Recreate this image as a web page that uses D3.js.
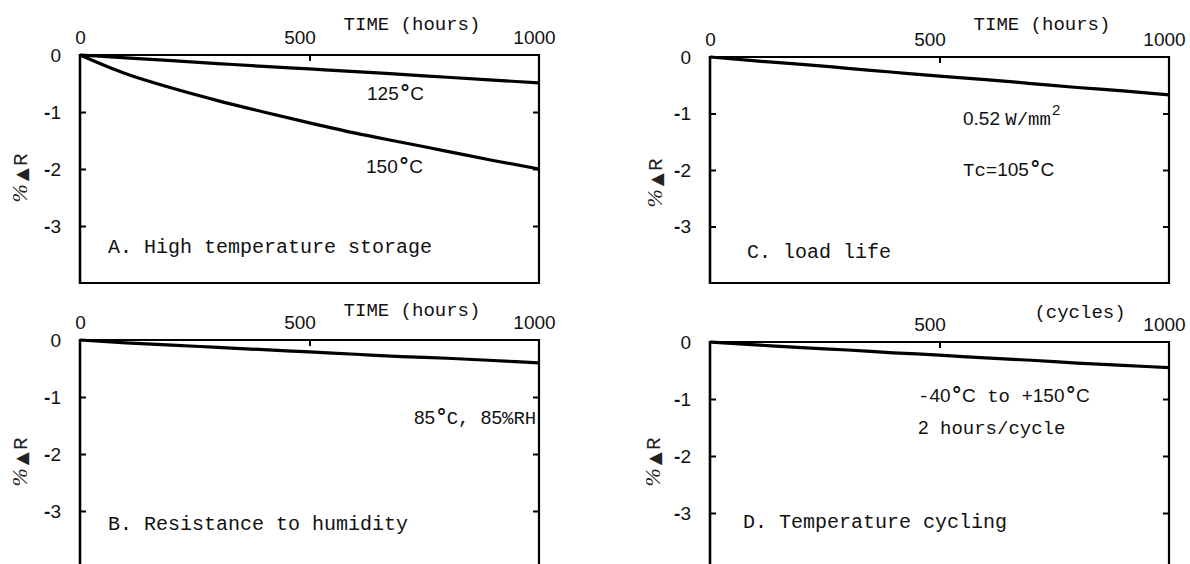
<!DOCTYPE html>
<html>
<head>
<meta charset="utf-8">
<script src="https://cdn.jsdelivr.net/npm/d3@7/dist/d3.min.js"></script>
<style>
  html, body { margin: 0; padding: 0; background: #fff; }
  svg { display: block; }
  .mono { font-family: "Liberation Mono", "DejaVu Sans Mono", monospace; }
</style>
</head>
<body>
<svg id="chart" width="1190" height="564"></svg>
<script>
// Elapsed time (hours or cycles) at which the resistance drift was read
const hours = [0, 100, 200, 300, 400, 500, 600, 700, 800, 900, 1000];

// Percent change in resistance (%ΔR) for each test
const storage125 = [0, -0.05, -0.10, -0.15, -0.20, -0.245, -0.29, -0.34, -0.39, -0.44, -0.49];
const storage150 = [0, -0.33, -0.58, -0.80, -1.00, -1.19, -1.37, -1.53, -1.69, -1.85, -2.00];
const humidity85 = [0, -0.05, -0.09, -0.13, -0.17, -0.21, -0.25, -0.29, -0.32, -0.36, -0.40];
const loadLife   = [0, -0.07, -0.13, -0.20, -0.27, -0.34, -0.40, -0.47, -0.54, -0.60, -0.67];
const cycling    = [0, -0.05, -0.10, -0.14, -0.19, -0.23, -0.28, -0.32, -0.37, -0.41, -0.45];

// Axis ticks
const xTickValues = [0, 500, 1000];
const yTickValues = [0, -1, -2, -3];
const yDomain = [0, -4];

const SANS = "Liberation Sans, Arial, sans-serif";
const MONO = "Liberation Mono, monospace";

const svg = d3.select("#chart");

const panels = [
  {
    box: { x0: 80, x1: 539, y0: 55, y1: 283 },
    axisTitle: "TIME (hours)", titleX: 412, titleY: 30,
    showZero: true,
    series: [storage125, storage150],
    yLabel: { x: 21, y: 178 },
    caption: { text: "A. High temperature storage", x: 108, y: 253 },
    notes: [
      { x: 367, y: 100, parts: [["sans", "125"], ["deg", "°"], ["sans", "C"]] },
      { x: 366, y: 173, parts: [["sans", "150"], ["deg", "°"], ["sans", "C"]] }
    ]
  },
  {
    box: { x0: 80, x1: 539, y0: 340, y1: 568 },
    axisTitle: "TIME (hours)", titleX: 412, titleY: 316,
    showZero: true,
    series: [humidity85],
    yLabel: { x: 21, y: 462 },
    caption: { text: "B. Resistance to humidity", x: 108, y: 530 },
    notes: [
      { x: 414, y: 424, parts: [["sans", "85"], ["deg", "°"], ["mono", "C, "], ["sans", "85"], ["mono", "%RH"]] }
    ]
  },
  {
    box: { x0: 710, x1: 1169, y0: 57, y1: 283 },
    axisTitle: "TIME (hours)", titleX: 1042, titleY: 30,
    showZero: true,
    series: [loadLife],
    yLabel: { x: 656, y: 183 },
    caption: { text: "C. load life", x: 747, y: 258 },
    notes: [
      { x: 963, y: 125, parts: [["sans", "0.52 "], ["mono", "W/mm"], ["sup", "2"]] },
      { x: 963, y: 176, parts: [["mono", "Tc="], ["sans", "105"], ["deg", "°"], ["sans", "C"]] }
    ]
  },
  {
    box: { x0: 710, x1: 1169, y0: 342, y1: 570 },
    axisTitle: "(cycles)", titleX: 1080, titleY: 318,
    showZero: false,
    series: [cycling],
    yLabel: { x: 654, y: 462 },
    caption: { text: "D. Temperature cycling", x: 743, y: 528 },
    notes: [
      { x: 918, y: 402, parts: [["mono", "-"], ["sans", "40"], ["deg", "°"], ["sans", "C"], ["mono", " to +"], ["sans", "150"], ["deg", "°"], ["sans", "C"]] },
      { x: 918, y: 434, parts: [["sans", "2"], ["mono", " hours/cycle"]] }
    ]
  }
];

// Mixed-face label: digits in sans, typed words in mono, bold degree ring, raised exponent
function addParts(textSel, parts) {
  let raised = false;
  parts.forEach(([kind, str]) => {
    const t = textSel.append("tspan").text(str);
    if (kind === "sans") t.attr("font-family", SANS).attr("font-size", 19);
    if (kind === "mono") t.attr("font-family", MONO).attr("font-size", 19);
    if (kind === "deg") t.attr("font-family", "DejaVu Sans, sans-serif").attr("font-size", 21)
                         .attr("font-weight", "bold").attr("dx", 1);
    if (kind === "sup") { t.attr("font-family", SANS).attr("font-size", 15).attr("dy", -10).attr("dx", 1); raised = true; }
    else if (raised) { t.attr("dy", 10); raised = false; }
  });
}

panels.forEach(p => {
  const { x0, x1, y0, y1 } = p.box;
  const x = d3.scaleLinear().domain([0, 1000]).range([x0, x1]);
  const y = d3.scaleLinear().domain(yDomain).range([y0, y1]);
  const g = svg.append("g");

  // Top axis: inward ticks, labels above
  const xOffsets = { 0: 0, 500: -10, 1000: -5 };
  const top = g.append("g")
    .attr("transform", `translate(0,${y0})`)
    .call(d3.axisTop(x).tickValues(xTickValues).tickSize(-6).tickPadding(11)
      .tickFormat(d => (d === 0 && !p.showZero) ? "" : d3.format("d")(d)));
  top.select(".domain").remove();
  top.selectAll(".tick line").attr("stroke", "#000").attr("stroke-width", 2)
    .attr("display", d => d === 500 ? null : "none");
  top.selectAll(".tick text")
    .attr("font-size", 19).attr("fill", "#111")
    .attr("font-family", SANS)
    .attr("dx", d => xOffsets[d]);

  // Left axis: inward ticks, labels to the left
  const left = g.append("g")
    .attr("transform", `translate(${x0},0)`)
    .call(d3.axisLeft(y).tickValues(yTickValues).tickSize(-6).tickPadding(19)
      .tickFormat(d => d === 0 ? "0" : "-" + Math.abs(d)));
  left.select(".domain").remove();
  left.selectAll(".tick line").attr("stroke", "#000").attr("stroke-width", 2)
    .attr("display", d => d === 0 ? "none" : null);
  left.selectAll(".tick text")
    .attr("font-size", 19).attr("fill", "#111")
    .attr("font-family", SANS)
    .each(function(d) {
      const t = d3.select(this);
      if (d !== 0) {
        t.text(null);
        t.append("tspan").attr("font-weight", "bold").text("-");
        t.append("tspan").text(Math.abs(d));
      }
    });

  // Right axis: inward ticks only
  const right = g.append("g")
    .attr("transform", `translate(${x1},0)`)
    .call(d3.axisRight(y).tickValues(yTickValues.filter(v => v !== 0)).tickSize(-6).tickFormat(""));
  right.select(".domain").remove();
  right.selectAll(".tick line").attr("stroke", "#000").attr("stroke-width", 2);

  // Frame
  g.append("line").attr("x1", x0).attr("x2", x1).attr("y1", y0).attr("y2", y0)
    .attr("stroke", "#000").attr("stroke-width", 1.8);
  g.append("line").attr("x1", x0).attr("x2", x1).attr("y1", y1).attr("y2", y1)
    .attr("stroke", "#000").attr("stroke-width", 2);
  g.append("line").attr("x1", x0).attr("x2", x0).attr("y1", y0 - 1).attr("y2", y1 + 1)
    .attr("stroke", "#000").attr("stroke-width", 2.6);
  g.append("line").attr("x1", x1).attr("x2", x1).attr("y1", y0 - 1).attr("y2", y1 + 1)
    .attr("stroke", "#000").attr("stroke-width", 2.2);

  // Drift curves
  const line = d3.line().x((d, i) => x(hours[i])).y(d => y(d)).curve(d3.curveMonotoneX);
  p.series.forEach(vals => {
    g.append("path").datum(vals).attr("d", line)
      .attr("fill", "none").attr("stroke", "#000").attr("stroke-width", 3.2)
      .attr("stroke-linejoin", "round");
  });

  // Axis title
  g.append("text").attr("x", p.titleX).attr("y", p.titleY)
    .attr("text-anchor", "middle").attr("class", "mono").attr("font-size", 19)
    .attr("fill", "#111").text(p.axisTitle);

  // Vertical quantity label: %ΔR
  const yl = g.append("text")
    .attr("transform", `translate(${p.yLabel.x},${p.yLabel.y}) rotate(-90)`)
    .attr("text-anchor", "middle").attr("dy", "0.35em").attr("fill", "#222");
  yl.append("tspan").attr("font-family", "Liberation Serif, serif").attr("font-style", "italic")
    .attr("font-size", 22).text("%");
  yl.append("tspan").attr("font-family", "DejaVu Sans, sans-serif").attr("font-size", 17)
    .attr("dx", 3).text("▲");
  yl.append("tspan").attr("font-family", MONO).attr("font-size", 21)
    .attr("dx", 2).text("R");

  // Panel caption
  g.append("text").attr("x", p.caption.x).attr("y", p.caption.y)
    .attr("class", "mono").attr("font-size", 20).attr("fill", "#111").text(p.caption.text);

  // Test-condition notes
  p.notes.forEach(n => {
    const t = g.append("text").attr("x", n.x).attr("y", n.y).attr("fill", "#111");
    addParts(t, n.parts);
  });
});
</script>
</body>
</html>
